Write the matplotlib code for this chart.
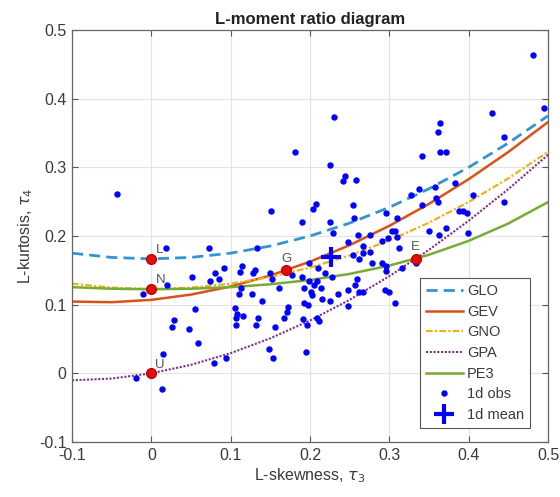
import matplotlib
matplotlib.use("Agg")
import matplotlib.pyplot as plt
import numpy as np

# ---- theoretical L-moment ratio curves (tau3 grid and tau4 values) ----
tau3_grid = [-0.10, -0.05, 0.00, 0.05, 0.10, 0.15, 0.20, 0.25, 0.30, 0.35, 0.40, 0.45, 0.50]
glo_t4 = [0.1750, 0.1688, 0.1667, 0.1688, 0.1750, 0.1854, 0.2000, 0.2188, 0.2417, 0.2688, 0.3000, 0.3354, 0.3750]
gev_t4 = [0.1045, 0.1036, 0.1070, 0.1147, 0.1265, 0.1425, 0.1626, 0.1867, 0.2148, 0.2468, 0.2827, 0.3224, 0.3659]
gno_t4 = [0.1306, 0.1248, 0.1228, 0.1248, 0.1306, 0.1403, 0.1540, 0.1717, 0.1935, 0.2194, 0.2495, 0.2839, 0.3226]
gpa_t4 = [-0.0102, -0.0076, 0.0000, 0.0124, 0.0294, 0.0510, 0.0769, 0.1071, 0.1415, 0.1799, 0.2222, 0.2683, 0.3182]
pe3_t4 = [0.1255, 0.1232, 0.1224, 0.1232, 0.1255, 0.1297, 0.1359, 0.1448, 0.1569, 0.1727, 0.1929, 0.2182, 0.2494]

curve_names = ["GLO", "GEV", "GNO", "GPA", "PE3"]

# ---- special distributions ----
special_labels = ["L", "N", "U", "G", "E"]
special_t3 = [0.0, 0.0, 0.0, 0.1699, 0.3333]
special_t4 = [0.1667, 0.1226, 0.0, 0.1504, 0.1667]

# ---- observed sample L-moment ratios ----
obs_t3 = [-0.043, 0.151, 0.018, 0.073, 0.133, 0.092, 0.114, 0.131, 0.481, 0.495,
          0.430, 0.230, 0.364, 0.361, 0.445, 0.181, 0.341, 0.364, 0.372, 0.225,
          0.244, 0.242, 0.258, 0.208, 0.204, 0.254, 0.190, 0.225, 0.255, 0.296,
          0.310, 0.327, 0.337, 0.341, 0.358, 0.359, 0.361, 0.383, 0.388, 0.393,
          0.398, 0.406, 0.445, 0.350, 0.363, 0.372, 0.399, 0.248, 0.261, 0.276,
          0.291, 0.298, 0.303, 0.307, 0.310, 0.312, 0.229, 0.267, 0.254, 0.262,
          0.267, 0.276, 0.278, 0.291, 0.296, 0.296, 0.316, 0.334, 0.210, 0.199,
          0.080, 0.085, 0.074, 0.112, 0.128, 0.150, 0.152, 0.177, 0.190, 0.219,
          0.228, 0.209, 0.199, 0.192, 0.205, 0.214, 0.248, 0.235, 0.113, 0.110,
          0.127, 0.161, 0.139, 0.201, 0.203, 0.215, 0.225, 0.192, 0.197, 0.105,
          0.108, 0.116, 0.107, 0.134, 0.171, 0.172, 0.132, 0.156, 0.191, 0.196,
          0.209, 0.211, 0.248, 0.167, 0.020, -0.011, 0.051, 0.055, 0.029, 0.026,
          0.047, 0.059, 0.107, 0.148, 0.153, 0.015, 0.079, 0.094, 0.013, -0.019,
          0.195, 0.295, 0.300, 0.307, 0.259, 0.262, 0.267, 0.257]
obs_t4 = [0.261, 0.236, 0.182, 0.182, 0.183, 0.154, 0.157, 0.150, 0.464, 0.386,
          0.379, 0.374, 0.364, 0.351, 0.344, 0.322, 0.317, 0.323, 0.323, 0.304,
          0.287, 0.280, 0.282, 0.246, 0.239, 0.245, 0.221, 0.220, 0.226, 0.234,
          0.226, 0.259, 0.269, 0.245, 0.271, 0.255, 0.249, 0.277, 0.237, 0.236,
          0.234, 0.259, 0.249, 0.208, 0.202, 0.211, 0.205, 0.191, 0.202, 0.201,
          0.192, 0.197, 0.208, 0.207, 0.198, 0.182, 0.205, 0.186, 0.173, 0.167,
          0.175, 0.176, 0.160, 0.160, 0.156, 0.149, 0.154, 0.160, 0.154, 0.160,
          0.146, 0.138, 0.135, 0.147, 0.146, 0.146, 0.138, 0.143, 0.140, 0.146,
          0.140, 0.135, 0.135, 0.124, 0.128, 0.124, 0.122, 0.115, 0.124, 0.116,
          0.115, 0.124, 0.106, 0.118, 0.114, 0.108, 0.105, 0.102, 0.100, 0.095,
          0.087, 0.084, 0.080, 0.080, 0.090, 0.096, 0.070, 0.067, 0.079, 0.071,
          0.080, 0.076, 0.098, 0.080, 0.128, 0.116, 0.140, 0.093, 0.077, 0.067,
          0.064, 0.044, 0.070, 0.035, 0.022, 0.028, 0.015, 0.023, -0.023, -0.007,
          0.031, 0.122, 0.119, 0.103, 0.137, 0.118, 0.118, 0.128]

mean_t3 = [0.226]
mean_t4 = [0.170]

xticks = [-0.1, 0.0, 0.1, 0.2, 0.3, 0.4, 0.5]
xtick_labels = ["-0.1", "0", "0.1", "0.2", "0.3", "0.4", "0.5"]
yticks = [-0.1, 0.0, 0.1, 0.2, 0.3, 0.4, 0.5]
ytick_labels = ["-0.1", "0", "0.1", "0.2", "0.3", "0.4", "0.5"]

plt.rcParams['font.family'] = ['Liberation Sans', 'DejaVu Sans']
plt.rcParams['mathtext.fontset'] = 'dejavusans'

fig = plt.figure(figsize=(5.6, 4.97), dpi=100)
ax = fig.add_axes([72 / 560, 1 - 442 / 497, 476 / 560, 412 / 497])

txtc = '#3a3a3a'

ax.plot(tau3_grid, glo_t4, linestyle=(0, (4, 2.2)), color='#3394d2', lw=2.0, label=curve_names[0])
ax.plot(tau3_grid, gev_t4, '-', color='#D95319', lw=1.8, label=curve_names[1])
ax.plot(tau3_grid, gno_t4, linestyle=(0, (3, 1, 1, 1)), color='#EDB120', lw=1.6, label=curve_names[2])
ax.plot(tau3_grid, gpa_t4, linestyle=(0, (1, 0.8)), color='#7E2F8E', lw=1.5, label=curve_names[3])
ax.plot(tau3_grid, pe3_t4, '-', color='#77AC30', lw=1.8, label=curve_names[4])

ax.plot(obs_t3, obs_t4, 'o', ms=3.6, color='#0000ff', mec='#0000ff', ls='none', label='1d obs', zorder=4)

ax.plot(special_t3, special_t4, 'o', ms=7, color='#e01010', mec='#c00000', ls='none', zorder=5)
for lab, x, y in zip(special_labels, special_t3, special_t4):
    if lab in ("G", "E"):
        ax.annotate(lab, (x, y), xytext=(0, 4), textcoords='offset points',
                    ha='center', va='bottom', fontsize=9.5, color='#555555', zorder=6)
    else:
        ax.annotate(lab, (x, y), xytext=(3, 2), textcoords='offset points',
                    ha='left', va='bottom', fontsize=9.5, color='#555555', zorder=6)

ax.plot(mean_t3, mean_t4, '+', ms=15, mew=3, color='#0000ff', ls='none', label='1d mean', zorder=7)

ax.set_xlim(-0.1, 0.5)
ax.set_ylim(-0.1, 0.5)
ax.set_xticks(xticks)
ax.set_xticklabels(xtick_labels)
ax.set_yticks(yticks)
ax.set_yticklabels(ytick_labels)
ax.grid(True, color='#e3e3e3', lw=0.8)
ax.set_axisbelow(True)
ax.tick_params(direction='in', top=True, right=True, length=4, width=0.8,
               colors='#555555', labelcolor=txtc, labelsize=11.5, pad=4)
for s in ax.spines.values():
    s.set_color('#666666')
    s.set_linewidth(0.9)

ax.set_title('L-moment ratio diagram', fontsize=12, fontweight='bold', color='#222222', pad=4)
ax.set_xlabel(r'L-skewness, $\tau_3$', fontsize=11.5, color=txtc, labelpad=3)
ax.set_ylabel(r'L-kurtosis, $\tau_4$', fontsize=11.5, color=txtc, labelpad=3)

leg = ax.legend(loc='lower right', bbox_to_anchor=(0.962, 0.034), fontsize=10.5,
                handlelength=2.5, labelspacing=0.46, borderpad=0.4, handletextpad=0.3,
                fancybox=False, framealpha=1, edgecolor='#555555', borderaxespad=0)
leg.get_frame().set_linewidth(0.8)
for t in leg.get_texts():
    t.set_color(txtc)

fig.savefig('out.png', dpi=100)
